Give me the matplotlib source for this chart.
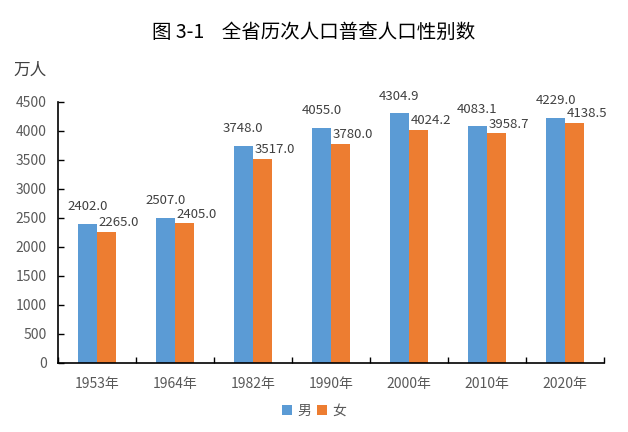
import numpy as np
import matplotlib.pyplot as plt

plt.rcParams['font.family'] = ['Noto Sans CJK SC', 'DejaVu Sans']

years = ['1953年', '1964年', '1982年', '1990年', '2000年', '2010年', '2020年']
male = [2402.0, 2507.0, 3748.0, 4055.0, 4304.9, 4083.1, 4229.0]
female = [2265.0, 2405.0, 3517.0, 3780.0, 4024.2, 3958.7, 4138.5]

c_male = '#5B9BD5'
c_female = '#ED7D31'
txt = '#595959'

fig = plt.figure(figsize=(6.28, 4.32), dpi=100)
ax = fig.add_axes([0.092, 0.160, 0.870, 0.604])

x = np.arange(len(years))
w = 0.245
b1 = ax.bar(x - w / 2, male, w, color=c_male, label='男')
b2 = ax.bar(x + w / 2, female, w, color=c_female, label='女')

# male labels sit higher, female labels are shifted right (as in the original)
for xi, v in zip(x, male):
    ax.annotate(f'{v:.1f}', (xi - w / 2, v), xytext=(0, 7.5), textcoords='offset points',
                ha='center', va='bottom', fontsize=9.5, color='#404040')
for xi, v in zip(x, female):
    ax.annotate(f'{v:.1f}', (xi + w / 2, v), xytext=(9, 2), textcoords='offset points',
                ha='center', va='bottom', fontsize=9.5, color='#404040')

ax.set_xlim(-0.5, len(years) - 0.5)
ax.set_ylim(0, 4500)
ax.set_yticks(np.arange(0, 4501, 500))
ax.set_xticks(x)
ax.set_xticklabels(years)
ax.set_xticks(np.arange(-0.5, len(years)), minor=True)
ax.tick_params(axis='x', which='major', length=0, pad=10, labelsize=10, labelcolor=txt)
ax.tick_params(axis='x', which='minor', direction='in', length=4, width=1)
ax.tick_params(axis='y', direction='in', length=4, width=1, labelsize=10, labelcolor=txt, pad=8)

for s in ['top', 'right']:
    ax.spines[s].set_visible(False)
for s in ['left', 'bottom']:
    ax.spines[s].set_linewidth(1.2)
    ax.spines[s].set_color('black')

fig.text(0.5, 0.925, '图 3-1    全省历次人口普查人口性别数', ha='center', va='center',
         fontsize=14, fontweight='medium', color='black')
fig.text(0.022, 0.838, '万人', ha='left', va='center', fontsize=12, color='#404040')

fig.legend(handles=[b1, b2], loc='center', bbox_to_anchor=(0.5, 0.049), ncol=2,
           frameon=False, fontsize=10, handlelength=0.7, handleheight=0.7,
           handletextpad=0.4, columnspacing=0.4, labelcolor=txt)

fig.savefig('out.png', dpi=100)
